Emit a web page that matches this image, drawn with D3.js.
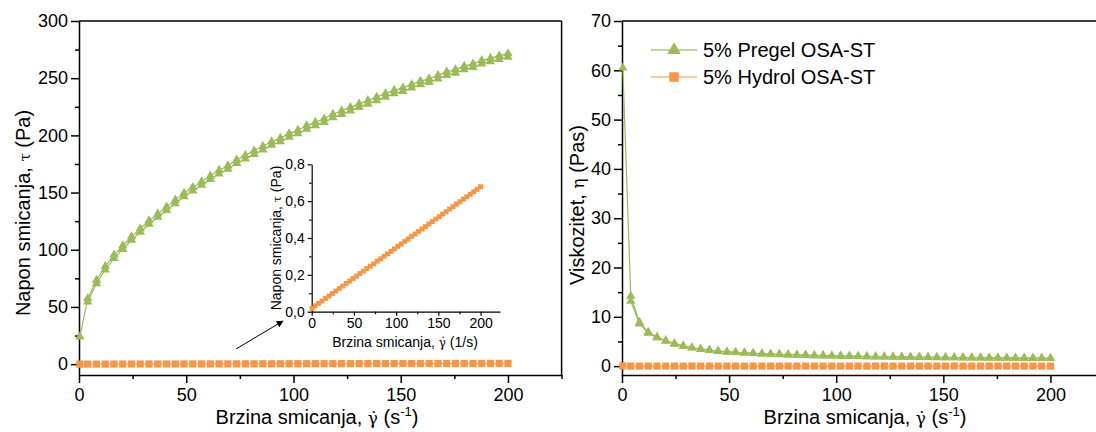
<!DOCTYPE html>
<html><head><meta charset="utf-8">
<script src="https://cdn.jsdelivr.net/npm/d3@7"></script>
<style>
body{margin:0;background:#fff}
text{font-family:"Liberation Sans",Arial,sans-serif;fill:#000}
</style>
</head><body>
<svg id="c" width="1096" height="432"></svg>
<script>
// ---------- data ----------
const shearRate = [0.4, 4.08, 8.16, 12.24, 16.33, 20.41, 24.49, 28.57, 32.65, 36.73,
  40.82, 44.90, 48.98, 53.06, 57.14, 61.22, 65.31, 69.39, 73.47, 77.55,
  81.63, 85.71, 89.80, 93.88, 97.96, 102.04, 106.12, 110.20, 114.29, 118.37,
  122.45, 126.53, 130.61, 134.69, 138.78, 142.86, 146.94, 151.02, 155.10, 159.18,
  163.27, 167.35, 171.43, 175.51, 179.59, 183.67, 187.76, 191.84, 195.92, 200];
// 5% Pregel OSA-ST, shear stress (Pa), upward sweep (all 50 rates)
const pregelStressUp = [24, 57.5, 73.5, 85.5, 95.5, 103.5, 111.5, 118.5, 125.5, 131.5,
  137.5, 143.5, 149.5, 154.5, 159.5, 164.5, 169.5, 173.5, 178.5, 182.5,
  186.5, 190.5, 194.5, 197.5, 201.5, 204.5, 208.5, 211.5, 214.5, 218.5,
  221.5, 224.5, 227.5, 230.5, 233.5, 236.5, 239.5, 241.5, 244.5, 247.5,
  249.5, 252.5, 255.5, 257.5, 260.5, 262.5, 265.5, 267.5, 269.5, 271.5];
// downward sweep (rates 2..50)
const pregelStressDown = [54.5, 70.5, 82.5, 92.5, 100.5, 108.5, 115.5, 122.5, 128.5,
  134.5, 140.5, 146.5, 151.5, 156.5, 161.5, 166.5, 170.5, 175.5, 179.5,
  183.5, 187.5, 191.5, 194.5, 198.5, 201.5, 205.5, 208.5, 211.5, 215.5,
  218.5, 221.5, 224.5, 227.5, 230.5, 233.5, 236.5, 238.5, 241.5, 244.5,
  246.5, 249.5, 252.5, 254.5, 257.5, 259.5, 262.5, 264.5, 266.5, 268.5];
// 5% Hydrol OSA-ST, shear stress (Pa)
const hydrolStress = [0.018, 0.032, 0.045, 0.058, 0.072, 0.085, 0.099, 0.112, 0.126, 0.139,
  0.153, 0.166, 0.180, 0.193, 0.207, 0.220, 0.234, 0.247, 0.260, 0.274,
  0.287, 0.301, 0.314, 0.328, 0.341, 0.355, 0.368, 0.382, 0.395, 0.409,
  0.422, 0.436, 0.449, 0.462, 0.476, 0.489, 0.503, 0.516, 0.530, 0.543,
  0.557, 0.570, 0.584, 0.597, 0.611, 0.624, 0.637, 0.651, 0.664, 0.678];
// viscosity (Pa s)
const pregelViscUp = [60.5, 14.2, 8.9, 6.9, 5.9, 5.2, 4.6, 4.1, 3.75, 3.45,
  3.25, 3.05, 2.9, 2.8, 2.7, 2.6, 2.52, 2.45, 2.38, 2.32,
  2.27, 2.22, 2.17, 2.13, 2.09, 2.05, 2.02, 1.99, 1.96, 1.93,
  1.9, 1.88, 1.86, 1.84, 1.82, 1.8, 1.78, 1.76, 1.74, 1.73,
  1.71, 1.7, 1.68, 1.67, 1.66, 1.64, 1.63, 1.62, 1.61, 1.6];
const pregelViscDown = [13.2, 8.6, 6.7, 5.75, 5.1, 4.5, 4.05, 3.7, 3.42,
  3.22, 3.02, 2.88, 2.78, 2.68, 2.58, 2.5, 2.43, 2.36, 2.3,
  2.25, 2.2, 2.15, 2.11, 2.07, 2.03, 2.0, 1.97, 1.94, 1.91,
  1.88, 1.86, 1.84, 1.82, 1.8, 1.78, 1.76, 1.74, 1.72, 1.71,
  1.69, 1.68, 1.66, 1.65, 1.64, 1.62, 1.61, 1.6, 1.59, 1.58];
const hydrolVisc = [0.045, 0.0078, 0.0055, 0.0047, 0.0044, 0.0042, 0.0040, 0.0039, 0.0039, 0.0038,
  0.0037, 0.0037, 0.0037, 0.0036, 0.0036, 0.0036, 0.0036, 0.0036, 0.0035, 0.0035,
  0.0035, 0.0035, 0.0035, 0.0035, 0.0035, 0.0035, 0.0035, 0.0035, 0.0035, 0.0035,
  0.0034, 0.0034, 0.0034, 0.0034, 0.0034, 0.0034, 0.0034, 0.0034, 0.0034, 0.0034,
  0.0034, 0.0034, 0.0034, 0.0034, 0.0034, 0.0034, 0.0034, 0.0034, 0.0034, 0.0034];
const seriesNames = ["5% Pregel OSA-ST", "5% Hydrol OSA-ST"];
// ticks
const rateTicks = [0, 50, 100, 150, 200];
const rateMinor = [25, 75, 125, 175, 225];
const stressTicks = [0, 50, 100, 150, 200, 250, 300];
const stressMinor = [25, 75, 125, 175, 225, 275];
const viscTicks = [0, 10, 20, 30, 40, 50, 60, 70];
const viscMinor = [5, 15, 25, 35, 45, 55, 65];
const insetTicks = [0, 0.2, 0.4, 0.6, 0.8];
const insetMinor = [0.1, 0.3, 0.5, 0.7];

// ---------- drawing ----------
const GREEN = "#9BBB59", ORANGE = "#F79646";
const SERIF = '"DejaVu Serif",serif';
const svg = d3.select("#c");
const zip = (xs, ys) => ys.map((v, i) => [xs[i], v]);
const upPts = zip(shearRate, pregelStressUp);
const downPts = zip(shearRate.slice(1), pregelStressDown);
const hydPts = zip(shearRate, hydrolStress);
const vUp = zip(shearRate, pregelViscUp);
const vDown = zip(shearRate.slice(1), pregelViscDown);
const vHyd = zip(shearRate, hydrolVisc);

function axes(x, y, o) {
  const g = svg.append("g");
  const y0 = y.range()[0], x0 = x.range()[0];
  g.append("g").attr("transform", `translate(0,${y0})`)
    .call(d3.axisBottom(x).tickValues(o.xt).tickSize(o.maj).tickSizeOuter(0).tickPadding(o.padX).tickFormat(o.fx || d3.format("d")));
  const bxm = g.append("g").attr("transform", `translate(0,${y0})`)
    .call(d3.axisBottom(x).tickValues(o.xm).tickSize(o.min).tickFormat(""));
  bxm.select(".domain").remove();
  g.append("g").attr("transform", `translate(${x0},0)`)
    .call(d3.axisLeft(y).tickValues(o.yt).tickSize(o.maj).tickSizeOuter(0).tickPadding(o.padY).tickFormat(o.fy || d3.format("d")));
  const lym = g.append("g").attr("transform", `translate(${x0},0)`)
    .call(d3.axisLeft(y).tickValues(o.ym).tickSize(o.min).tickFormat(""));
  lym.select(".domain").remove();
  g.selectAll("path.domain").attr("stroke", "#000").attr("stroke-width", o.sw);
  g.selectAll(".tick line").attr("stroke", "#000").attr("stroke-width", o.sw);
  g.selectAll(".tick text").attr("font-size", o.fs).attr("font-family", '"Liberation Sans",Arial,sans-serif').attr("fill", "#000");
  if (o.frame) {
    const [xa, xb] = x.range(), [ya, yb] = y.range();
    g.append("line").attr("x1", xa).attr("x2", xb).attr("y1", yb).attr("y2", yb).attr("stroke", "#000").attr("stroke-width", o.sw);
    g.append("line").attr("x1", xb).attr("x2", xb).attr("y1", ya).attr("y2", yb).attr("stroke", "#000").attr("stroke-width", o.sw);
  }
}

function series(x, y, pts, color, sym, size, lw) {
  const g = svg.append("g");
  g.append("path").datum(pts)
    .attr("d", d3.line().x(d => x(d[0])).y(d => y(d[1])))
    .attr("fill", "none").attr("stroke", color).attr("stroke-width", lw);
  g.selectAll("path.m").data(pts).enter().append("path").attr("class", "m")
    .attr("transform", d => `translate(${x(d[0])},${y(d[1])})`)
    .attr("d", d3.symbol().type(sym).size(size))
    .attr("fill", color);
}

function gammaTitle(sel, prefix, tail, gfs) {
  sel.append("tspan").text(prefix);
  sel.append("tspan").attr("font-family", SERIF).attr("font-size", gfs).text("\u03B3\u0307");
  tail(sel);
}

// ===== Left chart =====
const xL = d3.scaleLinear().domain([0, 225]).range([79, 561.6]);
const yL = d3.scaleLinear().domain([-9.5, 300]).range([375, 21]);
axes(xL, yL, {xt: rateTicks, xm: rateMinor, yt: stressTicks, ym: stressMinor, maj: 8, min: 4, padX: 5, padY: 3, fs: 18, sw: 1.5, frame: true});
series(xL, yL, downPts, GREEN, d3.symbolTriangle, 38, 1.2);
series(xL, yL, upPts, GREEN, d3.symbolTriangle, 38, 1.2);
series(xL, yL, hydPts, ORANGE, d3.symbolSquare, 52, 1);

function rateTitle(x) {
  const t = svg.append("text").attr("x", x).attr("y", 424).attr("text-anchor", "middle").attr("font-size", 20);
  gammaTitle(t, "Brzina smicanja, ", (s) => {
    s.append("tspan").text(" (s");
    s.append("tspan").attr("font-size", 13).attr("dy", -8).text("-1");
    s.append("tspan").attr("dy", 8).text(")");
  }, 17);
}
rateTitle(317);
{
  const t = svg.append("text").attr("transform", "translate(30,213) rotate(-90)").attr("text-anchor", "middle").attr("font-size", 20);
  t.append("tspan").text("Napon smicanja, ");
  t.append("tspan").attr("font-family", SERIF).attr("font-size", 15).text("\u03C4");
  t.append("tspan").text(" (Pa)");
}

// ===== Inset =====
const xI = d3.scaleLinear().domain([0, 223]).range([311.7, 500]);
const yI = d3.scaleLinear().domain([0, 0.8]).range([311.7, 164.3]);
axes(xI, yI, {xt: rateTicks, xm: rateMinor.slice(0, 4), yt: insetTicks, ym: insetMinor, maj: 4, min: 2.5, padX: 2, padY: 3, fs: 14, sw: 1.2, frame: false,
  fy: d => d3.format(".1f")(d).replace(".", ",")});
series(xI, yI, hydPts, ORANGE, d3.symbolSquare, 24, 1);
{
  const t = svg.append("text").attr("x", 405).attr("y", 347).attr("text-anchor", "middle").attr("font-size", 14);
  gammaTitle(t, "Brzina smicanja, ", (s) => { s.append("tspan").text(" (1/s)"); }, 12);
}
{
  const t = svg.append("text").attr("transform", "translate(281,238) rotate(-90)").attr("text-anchor", "middle").attr("font-size", 14);
  t.append("tspan").text("Napon smicanja, ");
  t.append("tspan").attr("font-family", SERIF).attr("font-size", 11).text("\u03C4");
  t.append("tspan").text(" (Pa)");
}
// arrow
svg.append("defs").append("marker").attr("id", "ah").attr("viewBox", "0 0 10 10")
  .attr("refX", 9).attr("refY", 5).attr("markerWidth", 9).attr("markerHeight", 7)
  .attr("markerUnits", "userSpaceOnUse").attr("orient", "auto")
  .append("path").attr("d", "M0,0L10,5L0,10Z").attr("fill", "#000");
svg.append("line").attr("x1", 236).attr("y1", 349).attr("x2", 283).attr("y2", 321)
  .attr("stroke", "#000").attr("stroke-width", 1).attr("marker-end", "url(#ah)");

// ===== Right chart =====
const xR = d3.scaleLinear().domain([0, 225]).range([622, 1104]);
const yR = d3.scaleLinear().domain([-1.8, 70]).range([375, 21]);
axes(xR, yR, {xt: rateTicks, xm: rateMinor, yt: viscTicks, ym: viscMinor, maj: 8, min: 4, padX: 5, padY: 3, fs: 18, sw: 1.5, frame: true});
series(xR, yR, vDown, GREEN, d3.symbolTriangle, 38, 1.2);
series(xR, yR, vUp, GREEN, d3.symbolTriangle, 38, 1.2);
series(xR, yR, vHyd, ORANGE, d3.symbolSquare, 52, 1);
rateTitle(865);
{
  const t = svg.append("text").attr("transform", "translate(584,205) rotate(-90)").attr("text-anchor", "middle").attr("font-size", 20);
  t.append("tspan").text("Viskozitet, ");
  t.append("tspan").attr("font-family", SERIF).attr("font-size", 17).text("\u03B7");
  t.append("tspan").text(" (Pas)");
}
// legend
const legend = svg.append("g");
const legendColors = [GREEN, ORANGE], legendLine = ["#A9C97A", "#FAB683"];
const legendSyms = [d3.symbolTriangle, d3.symbolSquare], legendSizes = [80, 90];
seriesNames.forEach((name, i) => {
  const yy = 50 + i * 27;
  legend.append("line").attr("x1", 651).attr("x2", 697).attr("y1", yy).attr("y2", yy)
    .attr("stroke", legendLine[i]).attr("stroke-width", 1.5);
  legend.append("path").attr("transform", `translate(674,${yy})`)
    .attr("d", d3.symbol().type(legendSyms[i]).size(legendSizes[i])).attr("fill", legendColors[i]);
  legend.append("text").attr("x", 703).attr("y", yy + 7).attr("font-size", 20).text(name);
});
</script>
</body></html>
